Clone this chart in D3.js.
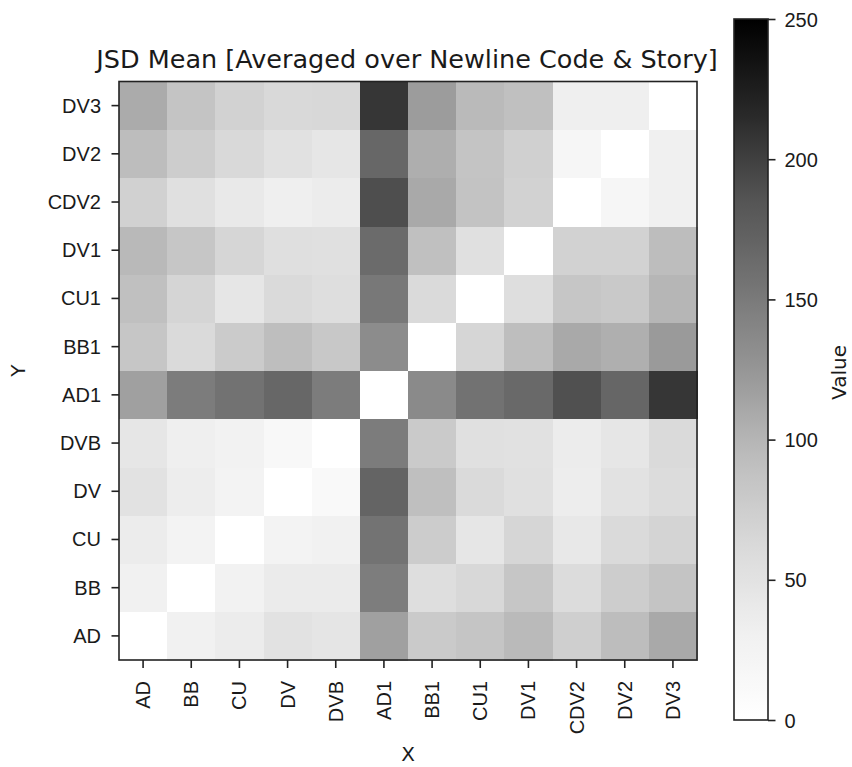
<!DOCTYPE html>
<html>
<head>
<meta charset="utf-8">
<script src="https://cdn.jsdelivr.net/npm/d3@7"></script>
<style>
  html, body { margin: 0; padding: 0; background: #fff; }
  svg { display: block; font-family: "DejaVu Sans", sans-serif; }
</style>
</head>
<body>
<svg id="chart" width="852" height="767"></svg>
<script>
// ---- data ----
const xCategories = ["AD", "BB", "CU", "DV", "DVB", "AD1", "BB1", "CU1", "DV1", "CDV2", "DV2", "DV3"];
const yCategories = ["AD", "BB", "CU", "DV", "DVB", "AD1", "BB1", "CU1", "DV1", "CDV2", "DV2", "DV3"]; // bottom -> top

const rowAD   = [0, 29, 37, 50, 46, 117, 79, 85, 96, 74, 94, 110];
const rowBB   = [29, 0, 28, 38, 38, 147, 56, 64, 84, 58, 76, 86];
const rowCU   = [37, 26, 0, 26, 29, 156, 77, 45, 66, 42, 61, 68];
const rowDV   = [50, 35, 26, 0, 13, 170, 91, 61, 53, 35, 50, 59];
const rowDVB  = [45, 33, 28, 15, 0, 148, 79, 53, 52, 37, 45, 61];
const rowAD1  = [117, 148, 157, 168, 148, 0, 136, 157, 166, 189, 169, 207];
const rowBB1  = [84, 61, 78, 93, 81, 134, 0, 66, 93, 110, 105, 122];
const rowCU1  = [90, 67, 45, 61, 56, 152, 61, 0, 56, 84, 80, 99];
const rowDV1  = [97, 84, 66, 55, 53, 164, 90, 53, 0, 70, 70, 94];
const rowCDV2 = [71, 53, 41, 33, 37, 190, 110, 87, 70, 0, 19, 31];
const rowDV2  = [94, 76, 62, 52, 45, 168, 106, 86, 73, 19, 0, 31];
const rowDV3  = [108, 86, 70, 62, 64, 207, 120, 96, 90, 33, 33, 0];

const colorbarTicks = [0, 50, 100, 150, 200, 250];
const valueDomain = [0, 250];
const greysStops = ["#ffffff", "#f0f0f0", "#d9d9d9", "#bdbdbd", "#969696", "#737373", "#525252", "#252525", "#000000"];

const titleText = "JSD Mean [Averaged over Newline Code & Story]";
const xLabel = "X", yLabel = "Y", cbLabel = "Value";

// ---- assemble ----
const rows = { AD: rowAD, BB: rowBB, CU: rowCU, DV: rowDV, DVB: rowDVB, AD1: rowAD1,
  BB1: rowBB1, CU1: rowCU1, DV1: rowDV1, CDV2: rowCDV2, DV2: rowDV2, DV3: rowDV3 };
const cells = [];
yCategories.forEach(yc => rows[yc].forEach((v, i) => cells.push({ x: xCategories[i], y: yc, v })));

// ---- layout ----
const plot = { left: 119, right: 697, top: 81.5, bottom: 660 };
const cb = { left: 734, right: 768, top: 19, bottom: 720 };
const textColor = "#1a1a1a";

const svg = d3.select("#chart");

const x = d3.scaleBand().domain(xCategories).range([plot.left, plot.right]).padding(0);
const y = d3.scaleBand().domain(yCategories).range([plot.bottom, plot.top]).padding(0);

const stopDomain = greysStops.map((_, i) => valueDomain[0] + (valueDomain[1] - valueDomain[0]) * i / (greysStops.length - 1));
const color = d3.scaleLinear().domain(stopDomain).range(greysStops).interpolate(d3.interpolateRgb).clamp(true);

// cells
svg.append("g")
  .selectAll("rect")
  .data(cells)
  .join("rect")
  .attr("x", d => x(d.x))
  .attr("y", d => y(d.y))
  .attr("width", x.bandwidth() + 0.5)
  .attr("height", y.bandwidth() + 0.5)
  .attr("fill", d => color(d.v))
  .attr("shape-rendering", "crispEdges");

// frame
svg.append("rect")
  .attr("x", plot.left).attr("y", plot.top)
  .attr("width", plot.right - plot.left).attr("height", plot.bottom - plot.top)
  .attr("fill", "none").attr("stroke", "#222").attr("stroke-width", 1.6);

// axes
const xAxis = svg.append("g")
  .attr("transform", `translate(0,${plot.bottom})`)
  .call(d3.axisBottom(x).tickSize(8).tickPadding(8).tickSizeOuter(0));
xAxis.select(".domain").remove();
xAxis.selectAll(".tick line").attr("stroke", "#222").attr("stroke-width", 1.6);
xAxis.selectAll(".tick text")
  .attr("font-size", 20).attr("fill", textColor)
  .attr("transform", "rotate(-90)")
  .attr("text-anchor", "end")
  .attr("x", -21).attr("y", 0).attr("dy", "0.35em");

const yAxis = svg.append("g")
  .attr("transform", `translate(${plot.left},0)`)
  .call(d3.axisLeft(y).tickSize(7.5).tickPadding(10.5).tickSizeOuter(0));
yAxis.select(".domain").remove();
yAxis.selectAll(".tick line").attr("stroke", "#222").attr("stroke-width", 1.6);
yAxis.selectAll(".tick text").attr("font-size", 20).attr("fill", textColor).attr("dy", "0.35em");

// title
svg.append("text")
  .attr("x", (plot.left + plot.right) / 2 - 1).attr("y", 67.5)
  .attr("text-anchor", "middle").attr("font-size", 25.5).attr("fill", textColor)
  .text(titleText);

// axis labels
svg.append("text")
  .attr("x", (plot.left + plot.right) / 2).attr("y", 761)
  .attr("text-anchor", "middle").attr("font-size", 20).attr("fill", textColor)
  .text(xLabel);
svg.append("text")
  .attr("transform", `translate(25,${(plot.top + plot.bottom) / 2}) rotate(-90)`)
  .attr("text-anchor", "middle").attr("font-size", 20).attr("fill", textColor)
  .text(yLabel);

// colorbar
const defs = svg.append("defs");
const grad = defs.append("linearGradient").attr("id", "cbgrad")
  .attr("x1", 0).attr("y1", 1).attr("x2", 0).attr("y2", 0);
d3.range(0, 1.0001, 0.02).forEach(t => {
  grad.append("stop").attr("offset", t)
    .attr("stop-color", color(valueDomain[0] + t * (valueDomain[1] - valueDomain[0])));
});
svg.append("rect")
  .attr("x", cb.left).attr("y", cb.top)
  .attr("width", cb.right - cb.left).attr("height", cb.bottom - cb.top)
  .attr("fill", "url(#cbgrad)").attr("stroke", "#222").attr("stroke-width", 1.6);

const cbScale = d3.scaleLinear().domain(valueDomain).range([cb.bottom, cb.top]);
const cbAxis = svg.append("g")
  .attr("transform", `translate(${cb.right},0)`)
  .call(d3.axisRight(cbScale).tickValues(colorbarTicks).tickSize(7.5).tickPadding(9).tickSizeOuter(0));
cbAxis.select(".domain").remove();
cbAxis.selectAll(".tick line").attr("stroke", "#222").attr("stroke-width", 1.6);
cbAxis.selectAll(".tick text").attr("font-size", 20).attr("fill", textColor).attr("dy", "0.35em");

svg.append("text")
  .attr("transform", `translate(846,${(cb.top + cb.bottom) / 2 + 3}) rotate(-90)`)
  .attr("text-anchor", "middle").attr("font-size", 20).attr("fill", textColor)
  .text(cbLabel);
</script>
</body>
</html>
